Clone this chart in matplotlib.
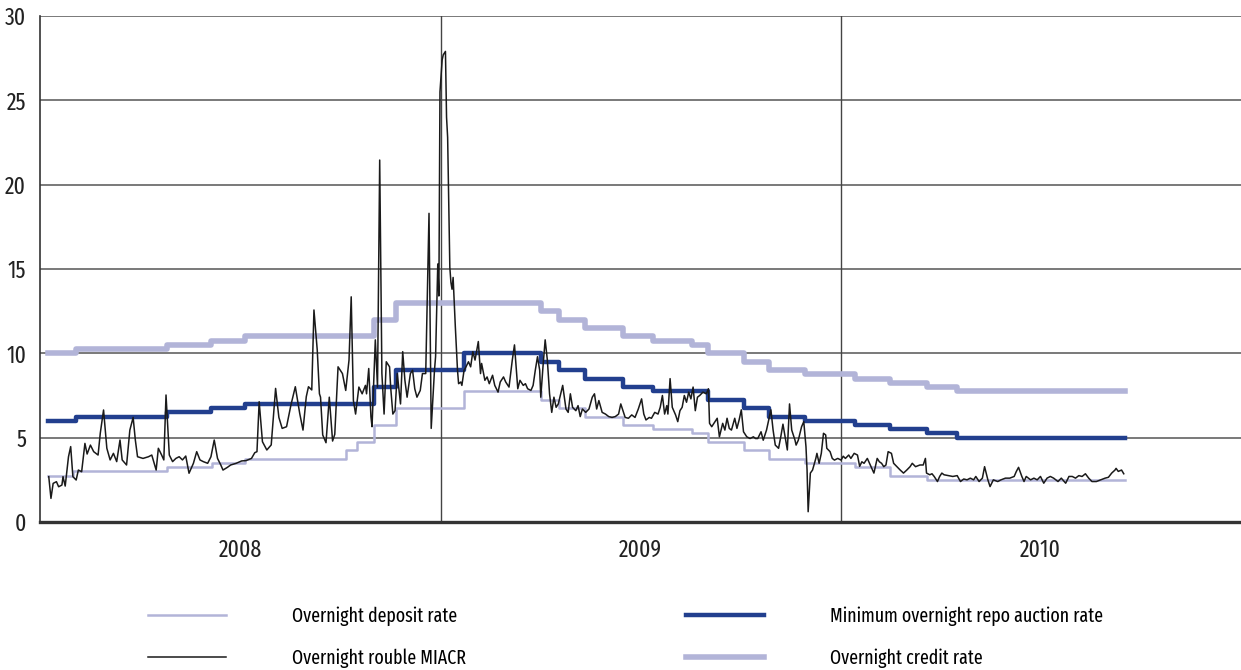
import os
import matplotlib
matplotlib.use("Agg")
import matplotlib.pyplot as plt
import matplotlib.font_manager as fm
from matplotlib.lines import Line2D

# look for the narrowest regular font file that is installed
skip = ["Bold", "Italic", "Light", "Thin", "Black", "Medium", "Oblique", "Heavy"]


def rank(path):
    b = os.path.basename(path)
    if any(s in b for s in skip):
        return None
    if "ExtraCondensed" in b or "UltraCondensed" in b:
        return 1
    if "SemiCondensed" in b:
        return 3
    if "Condensed" in b or "Narrow" in b:
        return 2
    return None


files = sorted({f.fname for f in fm.fontManager.ttflist if rank(f.fname) is not None},
               key=lambda p: (rank(p), p))
if files:
    tick_prop = fm.FontProperties(fname=files[0], size=17)
    leg_prop = fm.FontProperties(fname=files[0], size=14)
else:
    tick_prop = fm.FontProperties(family="Roboto", size=14)
    leg_prop = fm.FontProperties(family="Roboto", size=13)

# x values are days counted from 1 Jan 2008
year_starts = [366, 731]
year_mid = [183, 548, 913]
year_labels = ["2008", "2009", "2010"]

# policy rates, change dates (steps)
credit_days = [7, 33, 116, 156, 187, 305, 325, 457, 474, 497, 532, 559, 595, 610, 642, 665, 698, 744, 776, 809, 837, 990]
credit_rate = [10.0, 10.25, 10.5, 10.75, 11.0, 12.0, 13.0, 12.5, 12.0, 11.5, 11.0, 10.75, 10.5, 10.0, 9.5, 9.0, 8.75, 8.5, 8.25, 8.0, 7.75, 7.75]

repo_days = [7, 33, 116, 156, 187, 305, 325, 387, 457, 474, 497, 532, 559, 610, 642, 665, 698, 744, 776, 809, 837, 990]
repo_rate = [6.0, 6.25, 6.5, 6.75, 7.0, 8.0, 9.0, 10.0, 9.5, 9.0, 8.5, 8.0, 7.75, 7.25, 6.75, 6.25, 6.0, 5.75, 5.5, 5.25, 5.0, 5.0]

deposit_days = [7, 30, 116, 157, 187, 279, 289, 305, 325, 387, 457, 474, 497, 532, 559, 595, 610, 642, 665, 698, 744, 776, 809, 990]
deposit_rate = [2.75, 3.0, 3.25, 3.5, 3.75, 4.25, 4.75, 5.75, 6.75, 7.75, 7.25, 6.75, 6.25, 5.75, 5.5, 5.25, 4.75, 4.25, 3.75, 3.5, 3.25, 2.75, 2.5, 2.5]

# overnight MIACR
miacr_days = [8, 10, 12, 15, 17, 20, 21, 23, 26, 28, 30, 33, 35, 38, 41, 43, 46, 49, 53, 55,
              58, 61, 64, 67, 70, 73, 75, 79, 82, 85, 87, 89, 94, 99, 102, 106, 108, 111, 113, 115,
              118, 121, 124, 127, 130, 133, 136, 140, 143, 146, 149, 153, 156, 159, 162, 165, 167, 171, 174, 179,
              184, 188, 193, 196, 198, 200, 203, 207, 211, 215, 218, 221, 225, 229, 233, 237, 240, 243, 245, 248,
              250, 253, 255, 256, 258, 261, 264, 267, 269, 272, 276, 279, 282, 284, 286, 288, 291, 294, 297, 298,
              300, 302, 303, 306, 308, 310, 312, 314, 316, 319, 320, 322, 324, 326, 329, 331, 333, 335, 338, 340,
              342, 344, 347, 349, 352, 355, 357, 360, 361, 363, 364, 365, 367, 368, 370, 371, 372, 374, 375, 376,
              377, 379, 381, 382, 384, 385, 387, 388, 391, 393, 395, 397, 400, 402, 403, 406, 408, 410, 413, 415,
              418, 420, 423, 425, 428, 431, 433, 435, 436, 438, 441, 443, 445, 448, 450, 452, 454, 456, 457, 459,
              461, 463, 465, 467, 469, 471, 473, 477, 480, 482, 484, 486, 489, 491, 493, 495, 498, 501, 504, 506,
              508, 510, 513, 516, 519, 522, 525, 528, 530, 532, 534, 537, 540, 543, 546, 549, 551, 553, 556, 558,
              561, 564, 566, 568, 570, 572, 573, 575, 577, 580, 582, 584, 586, 588, 590, 592, 594, 596, 598, 600,
              602, 605, 608, 610, 611, 613, 616, 618, 620, 623, 625, 627, 629, 631, 634, 636, 638, 640, 642, 645,
              648, 651, 653, 655, 658, 660, 663, 665, 667, 669, 671, 674, 676, 678, 680, 682, 684, 686, 689, 690,
              692, 695, 697, 699, 700, 701, 703, 705, 708, 709, 711, 713, 715, 717, 718, 721, 723, 725, 728, 731,
              733, 735, 738, 740, 743, 746, 748, 750, 752, 755, 757, 759, 761, 764, 766, 768, 770, 772, 774, 777,
              779, 782, 785, 788, 791, 794, 796, 799, 803, 806, 808, 809, 812, 814, 816, 819, 821, 823, 825, 829,
              833, 837, 840, 843, 846, 849, 852, 854, 857, 860, 862, 865, 867, 870, 874, 877, 881, 885, 889, 891,
              893, 896, 898, 900, 904, 907, 910, 913, 916, 919, 922, 925, 929, 932, 936, 939, 942, 945, 948, 951,
              954, 957, 960, 964, 968, 972, 975, 978, 981, 982, 984, 987, 989]
miacr = [2.69, 1.40, 2.29, 2.39, 2.09, 2.19, 2.69, 2.13, 3.87, 4.47, 2.69, 2.49, 3.08, 2.98, 4.66, 4.03, 4.56, 4.17, 3.97, 5.26,
         6.64, 4.37, 3.68, 4.07, 3.58, 4.86, 3.68, 3.38, 5.45, 6.2, 4.86, 3.87, 3.77, 3.87, 3.97, 3.08, 4.37, 3.97, 3.68, 7.53,
         3.97, 3.58, 3.77, 3.87, 3.68, 3.91, 2.89, 3.48, 4.17, 3.68, 3.58, 3.48, 3.87, 4.86, 3.77, 3.38, 3.08, 3.24, 3.38, 3.48,
         3.62, 3.64, 3.77, 4.11, 4.17, 7.13, 4.76, 4.27, 4.57, 7.92, 6.2, 5.55, 5.65, 6.94, 8.02, 6.44, 5.45, 7.43, 8.02, 7.83,
         12.57, 10.2, 7.6, 7.4, 5.16, 4.7, 7.4, 4.8, 5.2, 9.2, 8.8, 7.8, 9.6, 13.35, 7.2, 6.4, 8.0, 7.6, 8.1, 7.6,
         9.1, 6.24, 5.65, 10.8, 8.0, 21.46, 8.8, 6.4, 9.5, 9.2, 8.0, 6.4, 6.6, 8.8, 7.0, 10.1, 8.4, 7.4, 8.8, 9.0,
         7.9, 7.4, 7.8, 8.8, 8.8, 18.3, 5.55, 9.0, 9.8, 15.3, 13.4, 25.5, 27.4, 27.7, 27.9, 24.0, 22.8, 15.1, 14.2, 13.8,
         14.5, 11.6, 9.0, 8.2, 8.3, 8.1, 9.0, 9.1, 9.5, 9.2, 10.1, 9.6, 10.7, 8.8, 9.4, 8.4, 8.6, 8.2, 8.7, 8.1,
         7.7, 8.3, 8.6, 8.3, 8.0, 9.6, 10.5, 8.8, 7.9, 8.4, 8.1, 8.2, 7.9, 7.8, 8.1, 9.0, 9.8, 9.0, 7.4, 9.2,
         10.8, 9.6, 7.6, 6.5, 7.4, 6.8, 7.0, 8.1, 6.7, 6.5, 7.6, 6.8, 6.6, 6.9, 6.25, 6.7, 6.5, 6.7, 7.4, 7.6,
         6.7, 7.2, 6.5, 6.4, 6.25, 6.2, 6.25, 6.4, 7.0, 6.6, 6.2, 6.15, 6.35, 6.2, 6.7, 7.3, 6.4, 6.05, 6.2, 6.15,
         6.5, 6.4, 6.8, 7.5, 6.4, 6.9, 6.4, 8.5, 6.8, 6.35, 5.95, 6.6, 6.8, 7.5, 7.1, 7.7, 7.3, 8.0, 6.6, 7.4,
         7.5, 7.7, 7.6, 7.9, 5.85, 5.65, 5.95, 6.15, 5.05, 5.85, 5.45, 6.15, 5.55, 5.45, 6.15, 5.55, 6.05, 6.65, 5.35, 5.05,
         4.95, 5.05, 4.95, 4.95, 5.35, 4.85, 5.45, 6.05, 6.65, 5.45, 4.56, 4.37, 5.05, 5.8, 5.05, 4.27, 7.0, 5.45, 4.85, 4.56,
         4.85, 5.65, 5.95, 4.47, 3.08, 0.61, 2.9, 3.08, 3.77, 4.07, 3.48, 4.07, 5.26, 5.16, 4.37, 4.17, 3.77, 3.67, 3.77, 3.67,
         3.9, 3.77, 3.97, 3.77, 4.07, 3.97, 3.3, 3.57, 3.48, 3.77, 3.48, 3.18, 2.9, 3.77, 3.57, 3.48, 3.28, 3.38, 4.17, 4.07,
         3.48, 3.28, 3.08, 2.9, 3.08, 3.28, 3.48, 3.28, 3.38, 3.38, 3.77, 2.9, 2.8, 2.86, 2.7, 2.4, 2.7, 2.9, 2.8, 2.75,
         2.7, 2.75, 2.4, 2.55, 2.5, 2.6, 2.5, 2.7, 2.4, 2.6, 3.28, 2.5, 2.1, 2.5, 2.4, 2.5, 2.6, 2.6, 2.7, 3.0,
         3.24, 2.7, 2.4, 2.7, 2.5, 2.6, 2.5, 2.7, 2.3, 2.6, 2.7, 2.6, 2.4, 2.6, 2.3, 2.7, 2.7, 2.6, 2.75, 2.7,
         2.86, 2.6, 2.4, 2.4, 2.5, 2.6, 2.65, 2.9, 3.08, 3.18, 3.0, 3.08, 2.86]

c_light = "#b2b4d8"
c_dark = "#223f8e"

fig = plt.figure(figsize=(12.41, 6.70), dpi=100)
ax = fig.add_axes([40/1241, 148/670, 1201/1241, 506/670])

ax.plot(credit_days, credit_rate, drawstyle="steps-post", color=c_light, lw=4.0, zorder=3)
ax.plot(repo_days, repo_rate, drawstyle="steps-post", color=c_dark, lw=3.2, zorder=4)
ax.plot(deposit_days, deposit_rate, drawstyle="steps-post", color=c_light, lw=1.8, zorder=3)
ax.plot(miacr_days, miacr, color="#1a1a1a", lw=1.1, zorder=5)

ax.set_xlim(0, 1096)
ax.set_ylim(0, 30)
ax.set_yticks(range(0, 31, 5))
ax.set_xticks(year_mid)
ax.set_xticklabels(year_labels)
ax.tick_params(axis="both", length=0, colors="#222222")
ax.tick_params(axis="x", pad=12)
ax.tick_params(axis="y", pad=10)
for lab in ax.get_xticklabels() + ax.get_yticklabels():
    lab.set_fontproperties(tick_prop)
ax.yaxis.grid(True, color="#555555", lw=1.1)
ax.set_axisbelow(True)
for d in year_starts:
    ax.axvline(d, color="#444444", lw=1.0, zorder=1)

ax.spines["top"].set_visible(False)
ax.spines["right"].set_visible(False)
ax.spines["left"].set_color("#333333")
ax.spines["left"].set_linewidth(1.2)
ax.spines["bottom"].set_color("#333333")
ax.spines["bottom"].set_linewidth(2.4)

h_dep = Line2D([], [], color=c_light, lw=1.8)
h_mia = Line2D([], [], color="#1a1a1a", lw=1.1)
h_repo = Line2D([], [], color=c_dark, lw=3.2)
h_cred = Line2D([], [], color=c_light, lw=4.0)

em = leg_prop.get_size_in_points() * 100 / 72
for hs, labs, x0 in [([h_dep, h_mia], ["Overnight deposit rate", "Overnight rouble MIACR"], 148),
                     ([h_repo, h_cred], ["Minimum overnight repo auction rate", "Overnight credit rate"], 686)]:
    fig.legend(hs, labs, loc="upper left", bbox_to_anchor=(x0/1241, 1 - 606/670), frameon=False,
               prop=leg_prop, handlelength=78/em, handletextpad=66/em, labelspacing=1.15,
               borderpad=0, borderaxespad=0)

fig.savefig("out.png", dpi=100)
